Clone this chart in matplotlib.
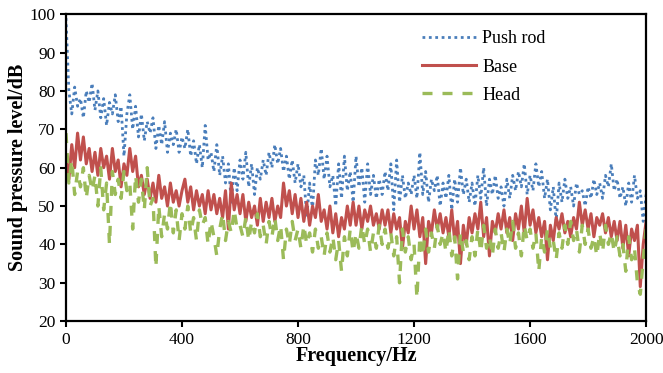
import matplotlib.pyplot as plt
import numpy as np

# frequency grid, 10 Hz steps
freq = np.arange(0, 2001, 10)

push_rod = [99, 80, 74, 81, 76, 78, 73, 80, 77, 82,
            75, 80, 73, 78, 71, 77, 74, 79, 72, 76,
            63, 74, 79, 70, 76, 68, 74, 67, 72, 69,
            73, 65, 71, 66, 72, 64, 69, 66, 70, 64,
            68, 65, 70, 63, 67, 61, 66, 60, 71, 62,
            64, 59, 66, 58, 63, 56, 61, 51, 60, 54,
            62, 57, 64, 55, 61, 53, 60, 57, 62, 58,
            64, 60, 66, 61, 65, 59, 63, 57, 62, 56,
            61, 55, 58, 47, 56, 49, 62, 58, 65, 57,
            63, 55, 58, 50, 61, 52, 63, 54, 59, 51,
            63, 55, 60, 51, 61, 53, 58, 52, 57, 53,
            59, 54, 61, 49, 62, 51, 58, 52, 56, 53,
            58, 52, 64, 53, 59, 51, 57, 54, 58, 50,
            56, 52, 58, 49, 57, 51, 60, 53, 57, 51,
            56, 50, 58, 52, 60, 50, 57, 53, 58, 52,
            55, 50, 57, 52, 58, 54, 59, 55, 61, 53,
            58, 54, 61, 55, 59, 52, 57, 49, 55, 46,
            56, 51, 57, 52, 55, 50, 56, 53, 54, 50,
            55, 52, 57, 53, 56, 52, 58, 55, 61, 54,
            57, 52, 55, 50, 56, 51, 58, 52, 54, 46,
            53]

base = [63, 57, 66, 60, 69, 62, 68, 61, 65, 59,
        64, 58, 65, 60, 63, 57, 65, 59, 62, 55,
        61, 58, 65, 59, 63, 55, 58, 53, 57, 52,
        56, 51, 58, 52, 55, 50, 56, 51, 54, 50,
        54, 57, 51, 55, 49, 54, 50, 53, 48, 54,
        49, 53, 48, 52, 47, 54, 44, 56, 49, 53,
        48, 53, 46, 51, 47, 50, 45, 52, 46, 51,
        47, 52, 46, 50, 47, 56, 50, 54, 48, 53,
        47, 52, 46, 51, 45, 50, 47, 53, 46, 49,
        44, 50, 43, 48, 42, 47, 44, 50, 45, 51,
        45, 50, 44, 49, 46, 50, 45, 48, 44, 49,
        45, 49, 43, 48, 44, 47, 39, 46, 43, 50,
        44, 49, 42, 47, 35, 46, 43, 49, 44, 48,
        43, 47, 42, 49, 41, 46, 35, 45, 40, 47,
        43, 48, 44, 51, 42, 47, 37, 46, 43, 48,
        44, 49, 43, 47, 41, 48, 44, 50, 43, 52,
        45, 49, 43, 47, 42, 46, 36, 45, 41, 47,
        44, 48, 43, 46, 42, 47, 44, 51, 45, 49,
        44, 48, 42, 47, 45, 48, 43, 47, 42, 46,
        41, 46, 39, 45, 37, 44, 41, 45, 29, 40,
        46]

head = [69, 56, 62, 53, 59, 55, 60, 52, 58, 54,
        58, 50, 60, 49, 56, 40, 59, 53, 57, 52,
        59, 54, 56, 44, 58, 51, 57, 49, 60, 50,
        52, 34, 50, 42, 48, 44, 51, 43, 49, 41,
        48, 44, 50, 43, 47, 41, 49, 45, 47, 40,
        46, 42, 37, 44, 48, 41, 46, 43, 49, 44,
        45, 42, 47, 41, 46, 43, 48, 42, 45, 40,
        46, 42, 47, 41, 45, 36, 44, 40, 46, 41,
        44, 39, 45, 40, 43, 38, 44, 39, 42, 37,
        43, 38, 42, 36, 41, 33, 42, 37, 44, 38,
        43, 39, 45, 40, 44, 38, 43, 39, 45, 40,
        44, 39, 43, 37, 42, 30, 44, 38, 42, 36,
        40, 26, 42, 37, 44, 38, 43, 39, 45, 40,
        43, 38, 44, 37, 42, 31, 43, 38, 41, 36,
        42, 37, 44, 38, 45, 39, 42, 37, 44, 39,
        43, 38, 44, 40, 46, 39, 43, 37, 45, 41,
        44, 39, 43, 33, 42, 38, 44, 39, 41, 36,
        43, 39, 45, 40, 46, 41, 44, 38, 45, 40,
        44, 39, 42, 37, 43, 38, 45, 40, 43, 38,
        42, 37, 40, 33, 42, 36, 39, 30, 27, 36,
        44]

xticks = [0, 400, 800, 1200, 1600, 2000]
yticks = [20, 30, 40, 50, 60, 70, 80, 90, 100]

plt.rcParams['font.family'] = ['Liberation Serif', 'DejaVu Serif']

fig = plt.figure(figsize=(6.63, 3.73), dpi=100)
ax = fig.add_axes([0.0995, 0.139, 0.875, 0.823])

ax.plot(freq, push_rod, color='#4a7ebb', linestyle=(0, (1, 1.3)), linewidth=2, label='Push rod')
ax.plot(freq, base, color='#c0504d', linestyle='-', linewidth=2.2, label='Base')
ax.plot(freq, head, color='#9bbb59', linestyle=(0, (3, 3)), linewidth=2.4, label='Head')

ax.set_xlim(0, 2000)
ax.set_ylim(20, 100)
ax.set_xticks(xticks)
ax.set_yticks(yticks)
ax.tick_params(direction='out', length=4, width=1.5, labelsize=12.5)

for s in ax.spines.values():
    s.set_linewidth(1.6)
    s.set_color('black')

ax.set_xlabel('Frequency/Hz', fontsize=14.5, fontweight='bold', labelpad=-1)
ax.set_ylabel('Sound pressure level/dB', fontsize=14.5, fontweight='bold', labelpad=1)

ax.legend(loc='upper left', bbox_to_anchor=(0.585, 1.0), frameon=False, fontsize=13,
          handlelength=3.0, handletextpad=0.35, labelspacing=0.62)

fig.savefig('out.png', dpi=100)
